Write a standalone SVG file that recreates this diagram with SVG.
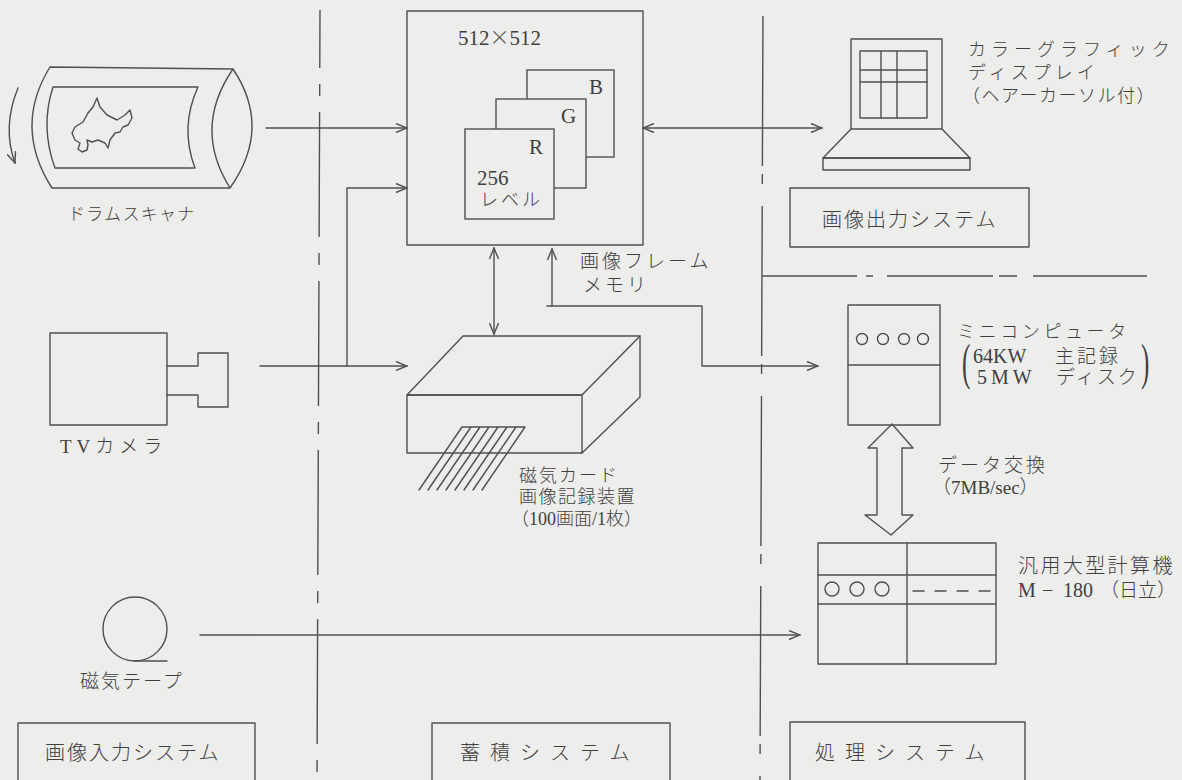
<svg xmlns="http://www.w3.org/2000/svg" width="1182" height="780" viewBox="0 0 1182 780">
  <defs>
    <style>
      .ln { stroke: #505050; stroke-width: 1.4; fill: none; stroke-linejoin: round; stroke-linecap: round; }
      .card { stroke: #505050; stroke-width: 1.4; fill: #ededeb; }
      .div { stroke: #505050; stroke-width: 1.4; fill: none; }
      .t { font-family: "Liberation Serif", "Noto Sans CJK JP", serif; fill: #404040; font-weight: 300; }
      .j { font-family: "Noto Sans CJK JP", sans-serif; fill: #404040; font-weight: 300; }
    </style>
    <marker id="ah" viewBox="0 0 13 10" refX="12" refY="5" markerWidth="13" markerHeight="10" markerUnits="userSpaceOnUse" orient="auto-start-reverse">
      <path d="M1,0.5 L12,5 L1,9.5" fill="none" stroke="#505050" stroke-width="1.4"/>
    </marker>
  </defs>

  <rect width="1182" height="780" fill="#ededeb"/>

  <!-- system dividers (dash-dot) -->
  <g id="dividers">
    <line class="div" x1="320" y1="10" x2="317" y2="780" stroke-dasharray="125 16 12 16" stroke-dashoffset="67"/>
    <line class="div" x1="763" y1="8" x2="760" y2="780" stroke-dasharray="150 8 10 22" stroke-dashoffset="-8"/>
    <path class="div" d="M762,276 H857 M866,276 H873 M887,276 H993 M999,276 H1017 M1033,276 H1147"/>
  </g>

  <!-- drum scanner -->
  <g id="drum-scanner">
    <path class="ln" d="M50,67 L233,69 M50,67 Q13,127 52,188 L230,188 M233,69 Q192.5,128 230,188 M233,69 Q272.5,128 230,188"/>
    <path class="ln" d="M53,87 L198,87 Q179.5,127 195,168 L55,168 Q40,127 53,87 Z"/>
    <path class="ln" d="M97,98 L100,107 L107,115 L117,120 L125,115 L130,110 L132,118 L128,125 L123,127 L120,132 L115,133 L110,140 L108,148 L105,143 L98,140 L92,142 L87,140 L88,145 L87,150 L82,152 L78,149 L80,143 L75,140 L72,133 L75,127 L83,122 L88,113 L93,107 Z" stroke-width="1.1"/>
    <path class="ln" d="M18,88 Q2,127 15,163" marker-end="url(#ah)"/>
    <text class="j" x="68" y="220" font-size="17" letter-spacing="1.3">ドラムスキャナ</text>
  </g>

  <!-- TV camera -->
  <g id="tv-camera">
    <rect class="ln" x="50" y="333" width="117" height="92"/>
    <path class="ln" d="M167,366 H198 V353 H228 V407 H198 V395 H167"/>
    <text class="t" x="60" y="453" font-size="19" letter-spacing="5">TVカメラ</text>
  </g>

  <!-- magnetic tape -->
  <g id="magnetic-tape">
    <circle class="ln" cx="135" cy="629" r="32"/>
    <line class="ln" x1="135" y1="661" x2="167" y2="661"/>
    <text class="j" x="80" y="688" font-size="19" letter-spacing="2">磁気テープ</text>
  </g>

  <!-- image frame memory -->
  <g id="frame-memory">
    <rect class="ln" x="407" y="11" width="236" height="234"/>
    <text class="t" x="458" y="45" font-size="21">512<tspan font-family="Noto Sans CJK JP" font-size="20">×</tspan>512</text>
    <rect class="card" x="527" y="70" width="87" height="87"/>
    <rect class="card" x="496" y="99" width="90" height="89"/>
    <rect class="card" x="465" y="129" width="89" height="90"/>
    <text class="t" x="589" y="94" font-size="21">B</text>
    <text class="t" x="561" y="123" font-size="21">G</text>
    <text class="t" x="529" y="154" font-size="21">R</text>
    <text class="t" x="477" y="185" font-size="21">256</text>
    <text class="j" x="480" y="206" font-size="18" letter-spacing="3">レベル</text>
    <text class="j" x="580" y="268" font-size="19" letter-spacing="3">画像フレーム</text>
    <text class="j" x="583" y="292" font-size="19" letter-spacing="3">メモリ</text>
  </g>

  <!-- magnetic card image recorder -->
  <g id="card-recorder">
    <path class="ln" d="M407,395 L463,336 L640,336 L582,395 Z"/>
    <rect class="ln" x="407" y="395" width="175" height="58"/>
    <path class="ln" d="M640,336 V397 L582,453"/>
    <path class="ln" d="M462,427 H525 M462,427 L419,490 M471,427 L428,490 M480,427 L437,490 M489,427 L446,490 M498,427 L455,490 M507,427 L464,490 M516,427 L473,490 M525,427 L482,490" stroke-width="1.1"/>
    <text class="j" x="519" y="482" font-size="18" letter-spacing="2">磁気カード</text>
    <text class="j" x="519" y="503" font-size="18" letter-spacing="1.5">画像記録装置</text>
    <text class="t" x="511" y="525" font-size="18">（100画面/1枚）</text>
  </g>

  <!-- colour graphic display -->
  <g id="display">
    <rect class="ln" x="851" y="39" width="91" height="90"/>
    <rect class="ln" x="860" y="51" width="67" height="67" stroke-width="2"/>
    <path class="ln" d="M881,51 V118 M897,51 V118 M860,70 H927 M860,82 H927"/>
    <path class="ln" d="M851,129 L823,158 H970 L942,129"/>
    <rect class="ln" x="823" y="158" width="147" height="12"/>
    <text class="j" x="968" y="56" font-size="18" letter-spacing="5">カラーグラフィック</text>
    <text class="j" x="968" y="79" font-size="18" letter-spacing="4">ディスプレイ</text>
    <text class="j" x="962" y="102" font-size="18" letter-spacing="1.5">（ヘアーカーソル付）</text>
  </g>

  <!-- minicomputer -->
  <g id="minicomputer">
    <rect class="ln" x="848" y="305" width="92" height="120"/>
    <line class="ln" x1="848" y1="365" x2="940" y2="365"/>
    <circle class="ln" cx="862" cy="339" r="5.5"/>
    <circle class="ln" cx="883" cy="339" r="5.5"/>
    <circle class="ln" cx="904" cy="339" r="5.5"/>
    <circle class="ln" cx="923" cy="339" r="5.5"/>
    <text class="j" x="957" y="338" font-size="18" letter-spacing="3.6">ミニコンピュータ</text>
    <text class="t" transform="translate(962,379) scale(0.5,1)" font-size="50">(</text>
    <text class="t" transform="translate(1141,379) scale(0.5,1)" font-size="50">)</text>
    <text class="t" x="973" y="363" font-size="20">64KW</text>
    <text class="j" x="1055" y="363" font-size="19" letter-spacing="3">主記録</text>
    <text class="t" x="977" y="384" font-size="20" letter-spacing="4">5MW</text>
    <text class="j" x="1056" y="384" font-size="19" letter-spacing="2">ディスク</text>
  </g>

  <!-- general purpose mainframe -->
  <g id="mainframe">
    <rect class="ln" x="818" y="543" width="178" height="121"/>
    <path class="ln" d="M907,543 V664 M818,575 H996 M818,604 H996"/>
    <circle class="ln" cx="832" cy="589" r="7"/>
    <circle class="ln" cx="857" cy="589" r="7"/>
    <circle class="ln" cx="882" cy="589" r="7"/>
    <line class="ln" x1="913" y1="591" x2="990" y2="591" stroke-dasharray="11 11"/>
    <text class="j" x="1018" y="573" font-size="20" letter-spacing="2.4">汎用大型計算機</text>
    <text class="t" x="1018" y="597" font-size="20"><tspan>M</tspan><tspan x="1042">−</tspan><tspan x="1063">180</tspan><tspan x="1100" font-size="19">（日立）</tspan></text>
  </g>

  <!-- system labels -->
  <g id="input-system">
    <rect class="ln" x="18" y="723" width="237" height="70"/>
    <text class="j" x="45" y="760" font-size="20" letter-spacing="2">画像入力システム</text>
  </g>
  <g id="storage-system">
    <rect class="ln" x="432" y="723" width="238" height="70"/>
    <text class="j" x="460" y="760" font-size="20" letter-spacing="10">蓄積システム</text>
  </g>
  <g id="processing-system">
    <rect class="ln" x="790" y="722" width="235" height="70"/>
    <text class="j" x="815" y="760" font-size="20" letter-spacing="10">処理システム</text>
  </g>
  <g id="output-system">
    <rect class="ln" x="790" y="188" width="239" height="59"/>
    <text class="j" x="822" y="227" font-size="20" letter-spacing="2">画像出力システム</text>
  </g>

  <!-- connectors -->
  <g id="connectors">
    <line class="ln" x1="266" y1="128" x2="407" y2="128" marker-end="url(#ah)"/>
    <line class="ln" x1="260" y1="366" x2="407" y2="366" marker-end="url(#ah)"/>
    <path class="ln" d="M347,366 V188 H407" marker-end="url(#ah)"/>
    <line class="ln" x1="643" y1="128" x2="822" y2="128" marker-start="url(#ah)" marker-end="url(#ah)"/>
    <line class="ln" x1="494" y1="248" x2="494" y2="334" marker-start="url(#ah)" marker-end="url(#ah)"/>
    <line class="ln" x1="552" y1="306" x2="552" y2="249" marker-end="url(#ah)"/>
    <path class="ln" d="M547,306 H702 V366 H818" marker-end="url(#ah)"/>
    <path class="ln" d="M892,424 L868,448 H877 V515 H865 L891,535 L913,515 H902 V448 H913 Z"/>
    <line class="ln" x1="200" y1="635" x2="800" y2="635" marker-end="url(#ah)"/>
    <text class="j" x="938" y="472" font-size="19" letter-spacing="3">データ交換</text>
    <text class="t" x="932" y="494" font-size="19">（7MB/sec）</text>
  </g>
</svg>
